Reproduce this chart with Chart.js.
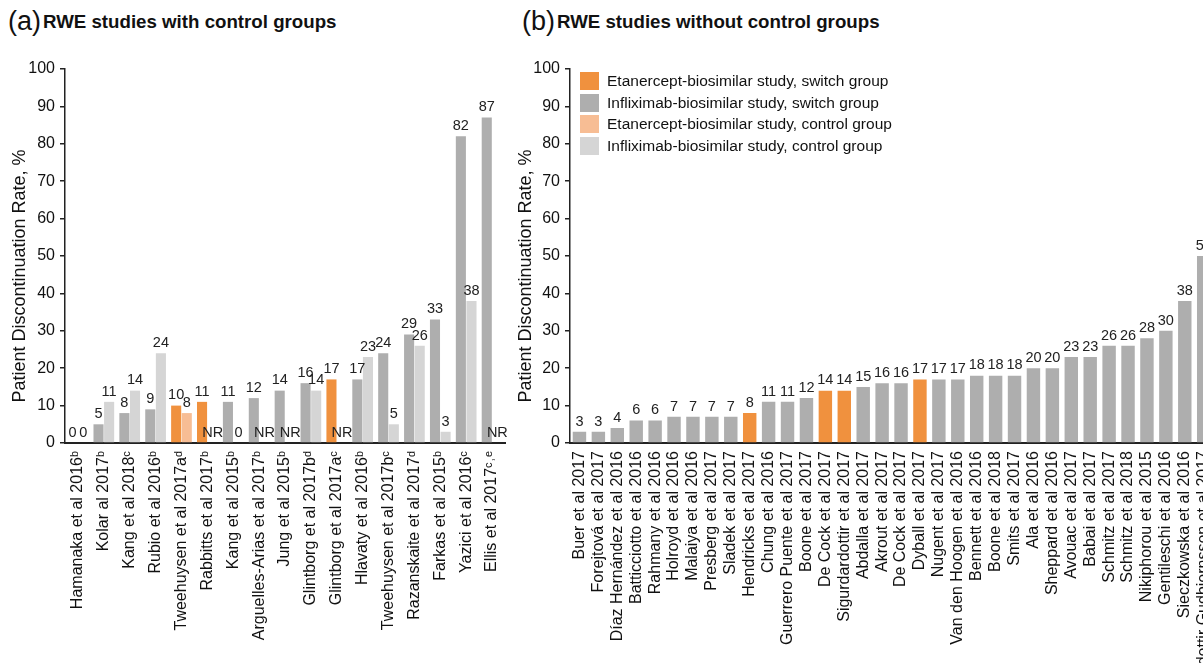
<!DOCTYPE html>
<html>
<head>
<meta charset="utf-8">
<script src="https://cdn.jsdelivr.net/npm/chart.js@4"></script>
<style>
  html, body { margin: 0; padding: 0; background: #fff; overflow: hidden; }
  body { width: 1203px; height: 663px; position: relative; font-family: "Liberation Sans", Arial, sans-serif; color: #111; }
  canvas { position: absolute; top: 0; }
  #chartA { left: 0; }
  #chartB { left: 506px; }
  .title { position: absolute; top: 6px; white-space: nowrap; }
  .title .tag { font-size: 27px; vertical-align: middle; }
  .title .txt { font-size: 18.7px; font-weight: bold; vertical-align: middle; margin-left: 2px; }
  #legend { position: absolute; left: 580px; top: 70px; font-size: 15.5px; }
  .item { height: 21.7px; display: flex; align-items: center; }
  .sw { width: 19px; height: 18px; margin-right: 8px; }
</style>
</head>
<body>
<div class="title" style="left:8px"><span class="tag">(a)</span><span class="txt">RWE studies with control groups</span></div>
<div class="title" style="left:522px"><span class="tag">(b)</span><span class="txt">RWE studies without control groups</span></div>
<canvas id="chartA" width="525" height="663"></canvas>
<canvas id="chartB" width="725" height="663"></canvas>
<div id="legend"></div>
<script>
// Panel (a): studies with control groups
const studiesA = ['Hamanaka et al 2016ᵇ', 'Kolar al 2017ᵇ', 'Kang et al 2018ᶜ', 'Rubio et al 2016ᵇ',
  'Tweehuysen et al 2017aᵈ', 'Rabbitts et al 2017ᵇ', 'Kang et al 2015ᵇ', 'Arguelles-Arias et al 2017ᵇ',
  'Jung et al 2015ᵇ', 'Glintborg et al 2017bᵈ', 'Glintborg et al 2017aᶜ', 'Hlavaty et al 2016ᵇ',
  'Tweehuysen et al 2017bᶜ', 'Razanskaite et al 2017ᵈ', 'Farkas et al 2015ᵇ', 'Yazici et al 2016ᶜ',
  'Ellis et al 2017ᶜ˒ᵉ']
const drugA = ['I', 'I', 'I', 'I', 'E', 'E', 'I', 'I', 'I', 'I', 'E', 'I', 'I', 'I', 'I', 'I', 'I']
const switchA = [0, 5, 8, 9, 10, 11, 11, 12, 14, 16, 17, 17, 24, 29, 33, 82, 87]
const controlA = [0, 11, 14, 24, 8, null, 0, null, null, 14, null, 23, 5, 26, 3, 38, null] // null = NR

// Panel (b): studies without control groups
const studiesB = ['Buer et al 2017', 'Forejtová et al 2017', 'Díaz Hernández et al 2016', 'Batticciotto et al 2016',
  'Rahmany et al 2016', 'Holroyd et al 2016', 'Malaiya et al 2016', 'Presberg et al 2017', 'Sladek et al 2017',
  'Hendricks et al 2017', 'Chung et al 2016', 'Guerrero Puente et al 2017', 'Boone et al 2017', 'De Cock et al 2017',
  'Sigurdardottir et al 2017', 'Abdalla et al 2017', 'Akrout et al 2017', 'De Cock et al 2017', 'Dyball et al 2017',
  'Nugent et al 2017', 'Van den Hoogen et al 2016', 'Bennett et al 2016', 'Boone et al 2018', 'Smits et al 2017',
  'Ala et al 2016', 'Sheppard et al 2016', 'Avouac et al 2017', 'Babai et al 2017', 'Schmitz et al 2017',
  'Schmitz et al 2018', 'Nikiphorou et al 2015', 'Gentileschi et al 2016', 'Sieczkowska et al 2016',
  'Sigurdardottir Gudbjornsson et al 2017']
const drugB = ['I', 'I', 'I', 'I', 'I', 'I', 'I', 'I', 'I', 'E', 'I', 'I', 'I', 'E', 'E', 'I', 'I', 'I', 'E',
  'I', 'I', 'I', 'I', 'I', 'I', 'I', 'I', 'I', 'I', 'I', 'I', 'I', 'I', 'I']
const switchB = [3, 3, 4, 6, 6, 7, 7, 7, 7, 8, 11, 11, 12, 14, 14, 15, 16, 16, 17, 17, 17, 18, 18, 18,
  20, 20, 23, 23, 26, 26, 28, 30, 38, 50]

const yTicks = [0, 10, 20, 30, 40, 50, 60, 70, 80, 90, 100]
const yTitle = 'Patient Discontinuation Rate, %'

const legendItems = [
  ['Etanercept-biosimilar study, switch group', '#F0913E'],
  ['Infliximab-biosimilar study, switch group', '#AEAEAE'],
  ['Etanercept-biosimilar study, control group', '#F7BD94'],
  ['Infliximab-biosimilar study, control group', '#D5D5D5']
]
const COLORS = { E: { sw: '#F0913E', ctl: '#F7BD94' }, I: { sw: '#AEAEAE', ctl: '#D5D5D5' } }

const FONT = '"Liberation Sans", Arial, sans-serif'

document.getElementById('legend').innerHTML = legendItems.map(([t, c]) =>
  `<div class="item"><div class="sw" style="background:${c}"></div>${t}</div>`).join('')

// etiquetas de valor sobre as barras
const valueLabels = {
  id: 'valueLabels',
  afterDatasetsDraw(chart) {
    const ctx = chart.ctx
    const base = chart.scales.y.getPixelForValue(0)
    ctx.save()
    ctx.font = '14.5px ' + FONT
    ctx.fillStyle = '#222'
    ctx.textAlign = 'center'
    ctx.textBaseline = 'bottom'
    chart.data.datasets.forEach((ds, i) => {
      chart.getDatasetMeta(i).data.forEach((bar, j) => {
        const v = ds.data[j]
        const y = (v === null || v === undefined) ? base : bar.y
        ctx.fillText(v === null ? 'NR' : String(v), bar.x, y - 3)
      })
    })
    ctx.restore()
  }
}

// título do eixo y (um pouco abaixo do centro, como no original)
const yTitlePlugin = {
  id: 'yTitlePlugin',
  afterDraw(chart) {
    const ctx = chart.ctx
    ctx.save()
    ctx.translate(20, 276)
    ctx.rotate(-Math.PI / 2)
    ctx.font = '18px ' + FONT
    ctx.fillStyle = '#111'
    ctx.textAlign = 'center'
    ctx.textBaseline = 'middle'
    ctx.fillText(yTitle, 0, 0)
    ctx.restore()
  }
}

function scalesConfig(yWidth) {
  return {
    x: {
      grid: { display: false, drawTicks: false },
      border: { display: true, color: '#222', width: 2 },
      ticks: { color: '#111', font: { size: 16, family: FONT }, minRotation: 90, maxRotation: 90, autoSkip: false, padding: 8 },
      afterFit: s => { s.height = 220 }
    },
    y: {
      min: 0, max: 100,
      afterBuildTicks: s => { s.ticks = yTicks.map(v => ({ value: v })) },
      grid: { drawOnChartArea: false, drawTicks: true, tickLength: 5, color: '#222', lineWidth: 1.5 },
      border: { display: true, color: '#222', width: 1.5 },
      ticks: { color: '#111', font: { size: 16, family: FONT }, padding: 5 },
      afterFit: s => { s.width = yWidth }
    }
  }
}

new Chart(document.getElementById('chartA'), {
  type: 'bar',
  data: {
    labels: studiesA,
    datasets: [
      { label: 'Switch group', data: switchA, backgroundColor: drugA.map(d => COLORS[d].sw) },
      { label: 'Control group', data: controlA, backgroundColor: drugA.map(d => COLORS[d].ctl) }
    ]
  },
  options: {
    responsive: false,
    animation: false,
    layout: { padding: { top: 69, right: 20, bottom: 0, left: 0 } },
    datasets: { bar: { categoryPercentage: 0.82, barPercentage: 0.95, borderWidth: 0 } },
    plugins: { legend: { display: false }, tooltip: { enabled: false } },
    scales: scalesConfig(65)
  },
  plugins: [valueLabels, yTitlePlugin]
})

new Chart(document.getElementById('chartB'), {
  type: 'bar',
  data: {
    labels: studiesB,
    datasets: [
      { label: 'Switch group', data: switchB, backgroundColor: drugB.map(d => COLORS[d].sw) }
    ]
  },
  options: {
    responsive: false,
    animation: false,
    layout: { padding: { top: 69, right: 7, bottom: 0, left: 0 } },
    datasets: { bar: { categoryPercentage: 0.71, barPercentage: 1, borderWidth: 0 } },
    plugins: { legend: { display: false }, tooltip: { enabled: false } },
    scales: scalesConfig(64)
  },
  plugins: [valueLabels, yTitlePlugin]
})
</script>
</body>
</html>
